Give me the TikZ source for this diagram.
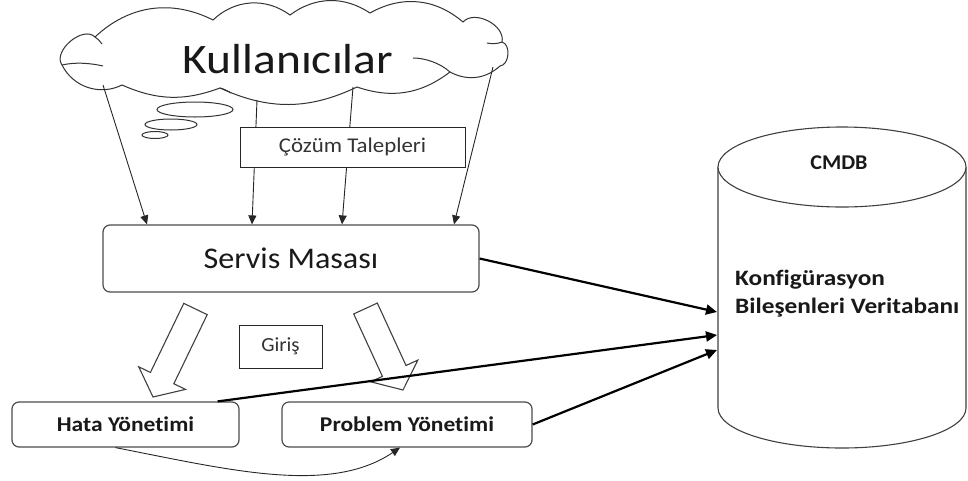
\documentclass[tikz,border=0pt]{standalone}
\usepackage{fontspec}
\setmainfont{Carlito}[Ligatures=NoCommon]
\usetikzlibrary{arrows.meta,calc}
\begin{document}
\begin{tikzpicture}[x=1pt,y=-1pt,
  box/.style={draw=black!70, line width=1.2pt, fill=white, rounded corners=7pt, inner sep=0pt, text=black!90},
  plainbox/.style={draw=black!85, line width=1pt, fill=white, inner sep=0pt, text=black!80},
  thinarrow/.style={draw=black!85, line width=0.9pt, -{Triangle[length=9pt,width=8pt]}},
  thickarrow/.style={draw=black, line width=2.2pt, -{Triangle[length=11pt,width=10pt]}},
  blockarrow/.style={draw=black!75, line width=1.1pt, fill=white, line join=miter},
  cloudline/.style={draw=black!80, line width=1pt}]
\useasboundingbox (0,0) rectangle (968,480);

% cloud
\draw[cloudline, fill=white] (95,37) to[bend left=35] (213,20) to[bend left=40] (290,15)
  to[bend left=35] (370,13) to[bend left=35] (463,22) to[bend left=75] (502,42)
  to[bend left=80] (500,66) to[bend left=35] (450,72) to[bend left=28] (357,87)
  to[bend left=25] (220,88) to[bend left=22] (122,85) to[bend left=45] (62,65)
  to[bend left=85] (95,37) -- cycle;
\draw[cloudline] (62,65) .. controls (75,62) and (90,63) .. (103,66);
\draw[cloudline] (450,72) .. controls (440,63) and (425,58) .. (413,58);
\draw[cloudline] (502,42) .. controls (497,44) and (492,44) .. (487,43);
\draw[cloudline] (95,37) .. controls (98,39) and (100,41) .. (102,44);
\draw[cloudline] (220,88) .. controls (224,89) and (228,91) .. (231,93);
\node[text=black!90, inner sep=0pt] (users) at (288,59) {\fontsize{42}{42}\selectfont\scalebox{1.13}[1]{Kullanıcılar}};

% thought bubbles
\draw[cloudline, fill=white] (195,109.5) ellipse[x radius=38, y radius=7.5];
\draw[cloudline, fill=white] (171,124.5) ellipse[x radius=26, y radius=5.5];
\draw[cloudline, fill=white] (155,135) ellipse[x radius=13, y radius=3.5];

% cloud start points
\coordinate (k1) at (103,85);
\coordinate (k2) at (257,100);
\coordinate (k3) at (353,87);
\coordinate (k4) at (493,67);

% Servis Masasi
\node[box, minimum width=376, minimum height=67] (sm) at (291,258.5) {\fontsize{30}{30}\selectfont\scalebox{1.07}[1]{Servis Masası}};

\draw[thinarrow] (k1) -- ([xshift=-144pt]sm.north);
\draw[thinarrow] (k2) -- ([xshift=-39pt]sm.north);
\draw[thinarrow] (k3) -- ([xshift=51pt]sm.north);
\draw[thinarrow] (k4) -- ([xshift=163pt]sm.north);

\node[plainbox, minimum width=225, minimum height=40] (req) at (352.5,147) {\fontsize{21}{21}\selectfont\scalebox{1.09}[1]{Çözüm Talepleri}};

% block arrows
\coordinate (bt1) at (195.5,309); \coordinate (bp1) at (153,397);
\coordinate (bb1) at ($(bp1)!21pt!(bt1)$);
\draw[blockarrow] ($(bt1)!13pt!90:(bp1)$) -- ($(bb1)!13pt!90:(bp1)$) -- ($(bb1)!26pt!90:(bp1)$)
  -- (bp1) -- ($(bb1)!26pt!-90:(bp1)$) -- ($(bb1)!13pt!-90:(bp1)$) -- ($(bt1)!13pt!-90:(bp1)$) -- cycle;
\coordinate (bt2) at (365.5,308.5); \coordinate (bp2) at (403,390);
\coordinate (bb2) at ($(bp2)!21pt!(bt2)$);
\draw[blockarrow] ($(bt2)!13pt!90:(bp2)$) -- ($(bb2)!13pt!90:(bp2)$) -- ($(bb2)!26pt!90:(bp2)$)
  -- (bp2) -- ($(bb2)!26pt!-90:(bp2)$) -- ($(bb2)!13pt!-90:(bp2)$) -- ($(bt2)!13pt!-90:(bp2)$) -- cycle;

\node[plainbox, minimum width=83, minimum height=43] (giris) at (280.5,346.5) {\fontsize{20}{20}\selectfont\scalebox{1.05}[1]{Giriş}};

% lower boxes
\node[box, minimum width=227, minimum height=45] (hy) at (125.5,424.5) {\fontsize{21}{21}\selectfont\bfseries\scalebox{1.12}[1]{Hata Yönetimi}};
\node[box, minimum width=250, minimum height=45] (pr) at (407,424.5) {\fontsize{21}{21}\selectfont\bfseries\scalebox{1.12}[1]{Problem Yönetimi}};

% CMDB cylinder
\draw[line width=1.1pt, draw=black!75, fill=white] (718,167) -- (718,408)
  arc[start angle=180, end angle=0, x radius=124, y radius=40] -- (966,167);
\draw[line width=1.1pt, draw=black!75, fill=white] (842,167) ellipse[x radius=124, y radius=40];
\node[inner sep=0pt, text=black!90] (cmdb) at (839,163) {\fontsize{21}{21}\selectfont\bfseries\scalebox{1.05}[1]{CMDB}};
\node[inner sep=0pt, anchor=west, align=left, text=black!90, font={\fontsize{22}{28}\selectfont\bfseries}] (kbv) at (735,294)
  {\scalebox{1.15}[1]{Konfigürasyon}\\\scalebox{1.15}[1]{Bileşenleri Veritabanı}};
\coordinate (c1) at (717,312);
\coordinate (c2) at (717,335);
\coordinate (c3) at (717,350);

\draw[thickarrow] (sm.east) -- (c1);
\draw[thickarrow] ([xshift=-22pt]hy.north east) -- (c2);
\draw[thickarrow] (pr.east) -- (c3);

\draw[thinarrow] ([xshift=-10pt]hy.south) .. controls (230,470) and (330,495) .. ([xshift=-7pt]pr.south);
\end{tikzpicture}
\end{document}
